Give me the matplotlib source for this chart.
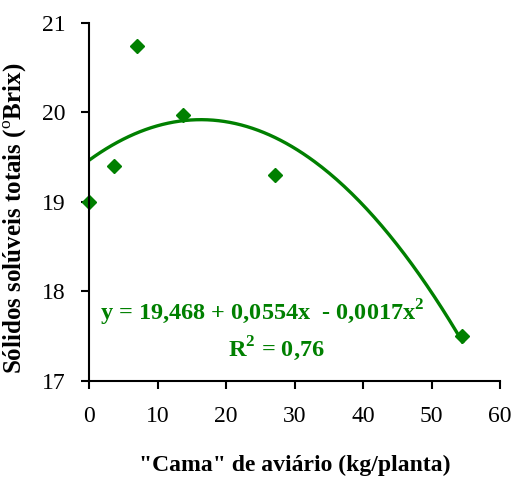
import numpy as np
import matplotlib
matplotlib.use('Agg')
import matplotlib.pyplot as plt

plt.rcParams['font.family'] = ['Liberation Serif', 'DejaVu Serif']
plt.rcParams['mathtext.fontset'] = 'custom'
plt.rcParams['mathtext.rm'] = 'Liberation Serif'
plt.rcParams['mathtext.bf'] = 'Liberation Serif:bold'

# dados
cama = [0, 3.6, 7.0, 13.75, 27.1, 54.5]
brix = [19.0, 19.4, 20.74, 19.97, 19.3, 17.5]
# coeficientes da regressão quadrática
b0, b1, b2 = 19.468, 0.0554, -0.0017

verde = '#008000'

fig = plt.figure(figsize=(5.15, 4.78), dpi=100)
ax = fig.add_axes([0.1734, 0.203, 0.7976, 0.749])

xs = np.linspace(0, 54.5, 200)
ax.plot(xs, b0 + b1 * xs + b2 * xs**2, color=verde, lw=2.4)
ax.plot(cama, brix, linestyle='none', marker='D', ms=7.5, color=verde, clip_on=False)

ax.set_xlim(0, 60)
ax.set_ylim(17, 21)
ax.set_xticks(range(0, 61, 10))
ax.set_yticks(range(17, 22))
ax.spines['top'].set_visible(False)
ax.spines['right'].set_visible(False)
ax.spines['left'].set_linewidth(1.5)
ax.spines['bottom'].set_linewidth(1.5)
ax.tick_params(direction='out', length=6, width=1.5, labelsize=17)
ax.tick_params(axis='x', pad=12)
ax.tick_params(axis='y', pad=11)

ax.set_xlabel('"Cama" de aviário (kg/planta)', fontsize=17, fontweight='bold', labelpad=20)
ax.set_ylabel(r'Sólidos solúveis totais ($^{\mathrm{o}}$Brix)', fontsize=18,
              fontweight='bold')
ax.yaxis.set_label_coords(-0.148, 0.455)

ax.text(1.6, 17.76, r'y = 19,468 + 0,0554x  - 0,0017x$^{\mathbf{2}}$', color=verde,
        fontsize=17.5, fontweight='bold', ha='left', va='center')
ax.text(27.3, 17.36, r'R$^{\mathbf{2}}$ = 0,76', color=verde,
        fontsize=17.5, fontweight='bold', ha='center', va='center')

fig.savefig('out.png', dpi=100)
